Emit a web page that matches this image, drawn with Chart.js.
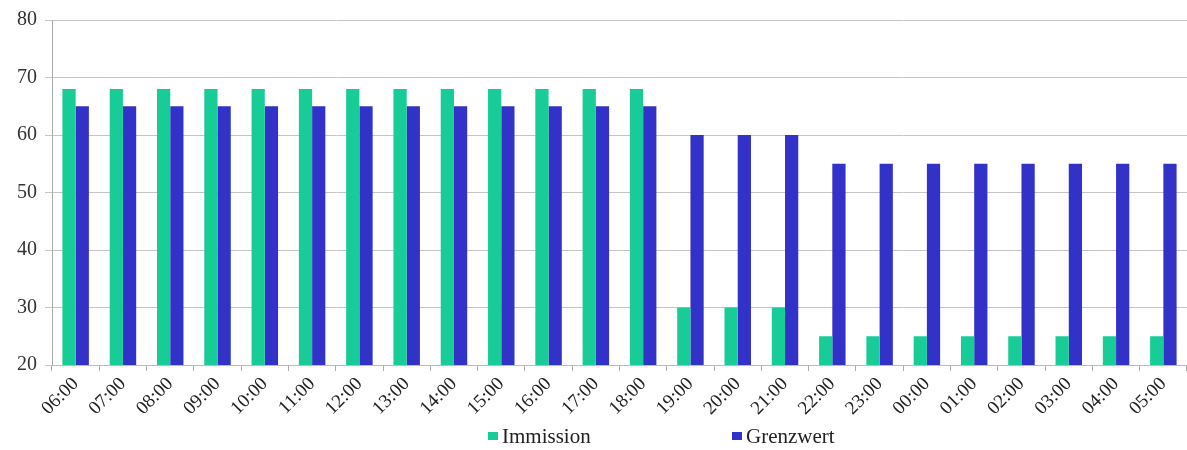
<!DOCTYPE html>
<html>
<head>
<meta charset="utf-8">
<script src="https://cdn.jsdelivr.net/npm/chart.js@4"></script>
<style>
html,body{margin:0;padding:0;background:#fff;}
#wrap{width:1187px;height:450px;position:relative;}
</style>
</head>
<body>
<div id="wrap"><canvas id="c" width="1187" height="450"></canvas></div>
<script>
const categories = ["06:00","07:00","08:00","09:00","10:00","11:00","12:00","13:00","14:00","15:00","16:00","17:00","18:00","19:00","20:00","21:00","22:00","23:00","00:00","01:00","02:00","03:00","04:00","05:00"];
const immission = [68,68,68,68,68,68,68,68,68,68,68,68,68,30,30,30,25,25,25,25,25,25,25,25];
const grenzwert = [65,65,65,65,65,65,65,65,65,65,65,65,65,60,60,60,55,55,55,55,55,55,55,55];
const yTicks = [20,30,40,50,60,70,80];

const GREEN = "rgb(24,204,152)";
const BLUE = "rgb(50,50,200)";
const SERIF = "'Liberation Serif','DejaVu Serif',serif";

const legendPlugin = {
  id: 'customLegend',
  afterDraw(chart) {
    const ctx = chart.ctx;
    const pos = [{x:488}, {x:732}];
    ctx.save();
    ctx.font = "21px " + SERIF;
    ctx.textBaseline = "middle";
    chart.data.datasets.forEach((ds, i) => {
      const x = pos[i].x, y = 437;
      ctx.fillStyle = ds.backgroundColor;
      ctx.fillRect(x, y - 5, 10, 8);
      ctx.fillStyle = "#222";
      ctx.fillText(ds.label, x + 14, y);
    });
    ctx.restore();
  }
};

new Chart(document.getElementById('c'), {
  type: 'bar',
  data: {
    labels: categories,
    datasets: [
      {label: 'Immission', data: immission, backgroundColor: GREEN, categoryPercentage: 0.56, barPercentage: 1.0},
      {label: 'Grenzwert', data: grenzwert, backgroundColor: BLUE, categoryPercentage: 0.56, barPercentage: 1.0}
    ]
  },
  options: {
    responsive: false,
    animation: false,
    layout: {padding: {top: 18, right: 0, bottom: 0, left: 0}},
    plugins: {legend: {display: false}, tooltip: {enabled: false}},
    scales: {
      x: {
        offset: true,
        grid: {display: true, drawOnChartArea: false, offset: true, tickLength: 6, color: '#aaa'},
        border: {display: true, color: '#bbb'},
        ticks: {font: {family: SERIF, size: 19}, color: '#222', maxRotation: 45, minRotation: 45, autoSkip: false, padding: 2},
        afterFit(s) { s.height = 85; }
      },
      y: {
        min: 20, max: 80,
        afterBuildTicks(s) { s.ticks = yTicks.map(v => ({value: v})); },
        grid: {color: '#c4c4c4', tickLength: 7},
        border: {display: true, color: '#aaa'},
        ticks: {font: {family: SERIF, size: 20}, color: '#333', padding: 8},
        afterFit(s) { s.width = 52; }
      }
    }
  },
  plugins: [legendPlugin]
});
</script>
</body>
</html>
